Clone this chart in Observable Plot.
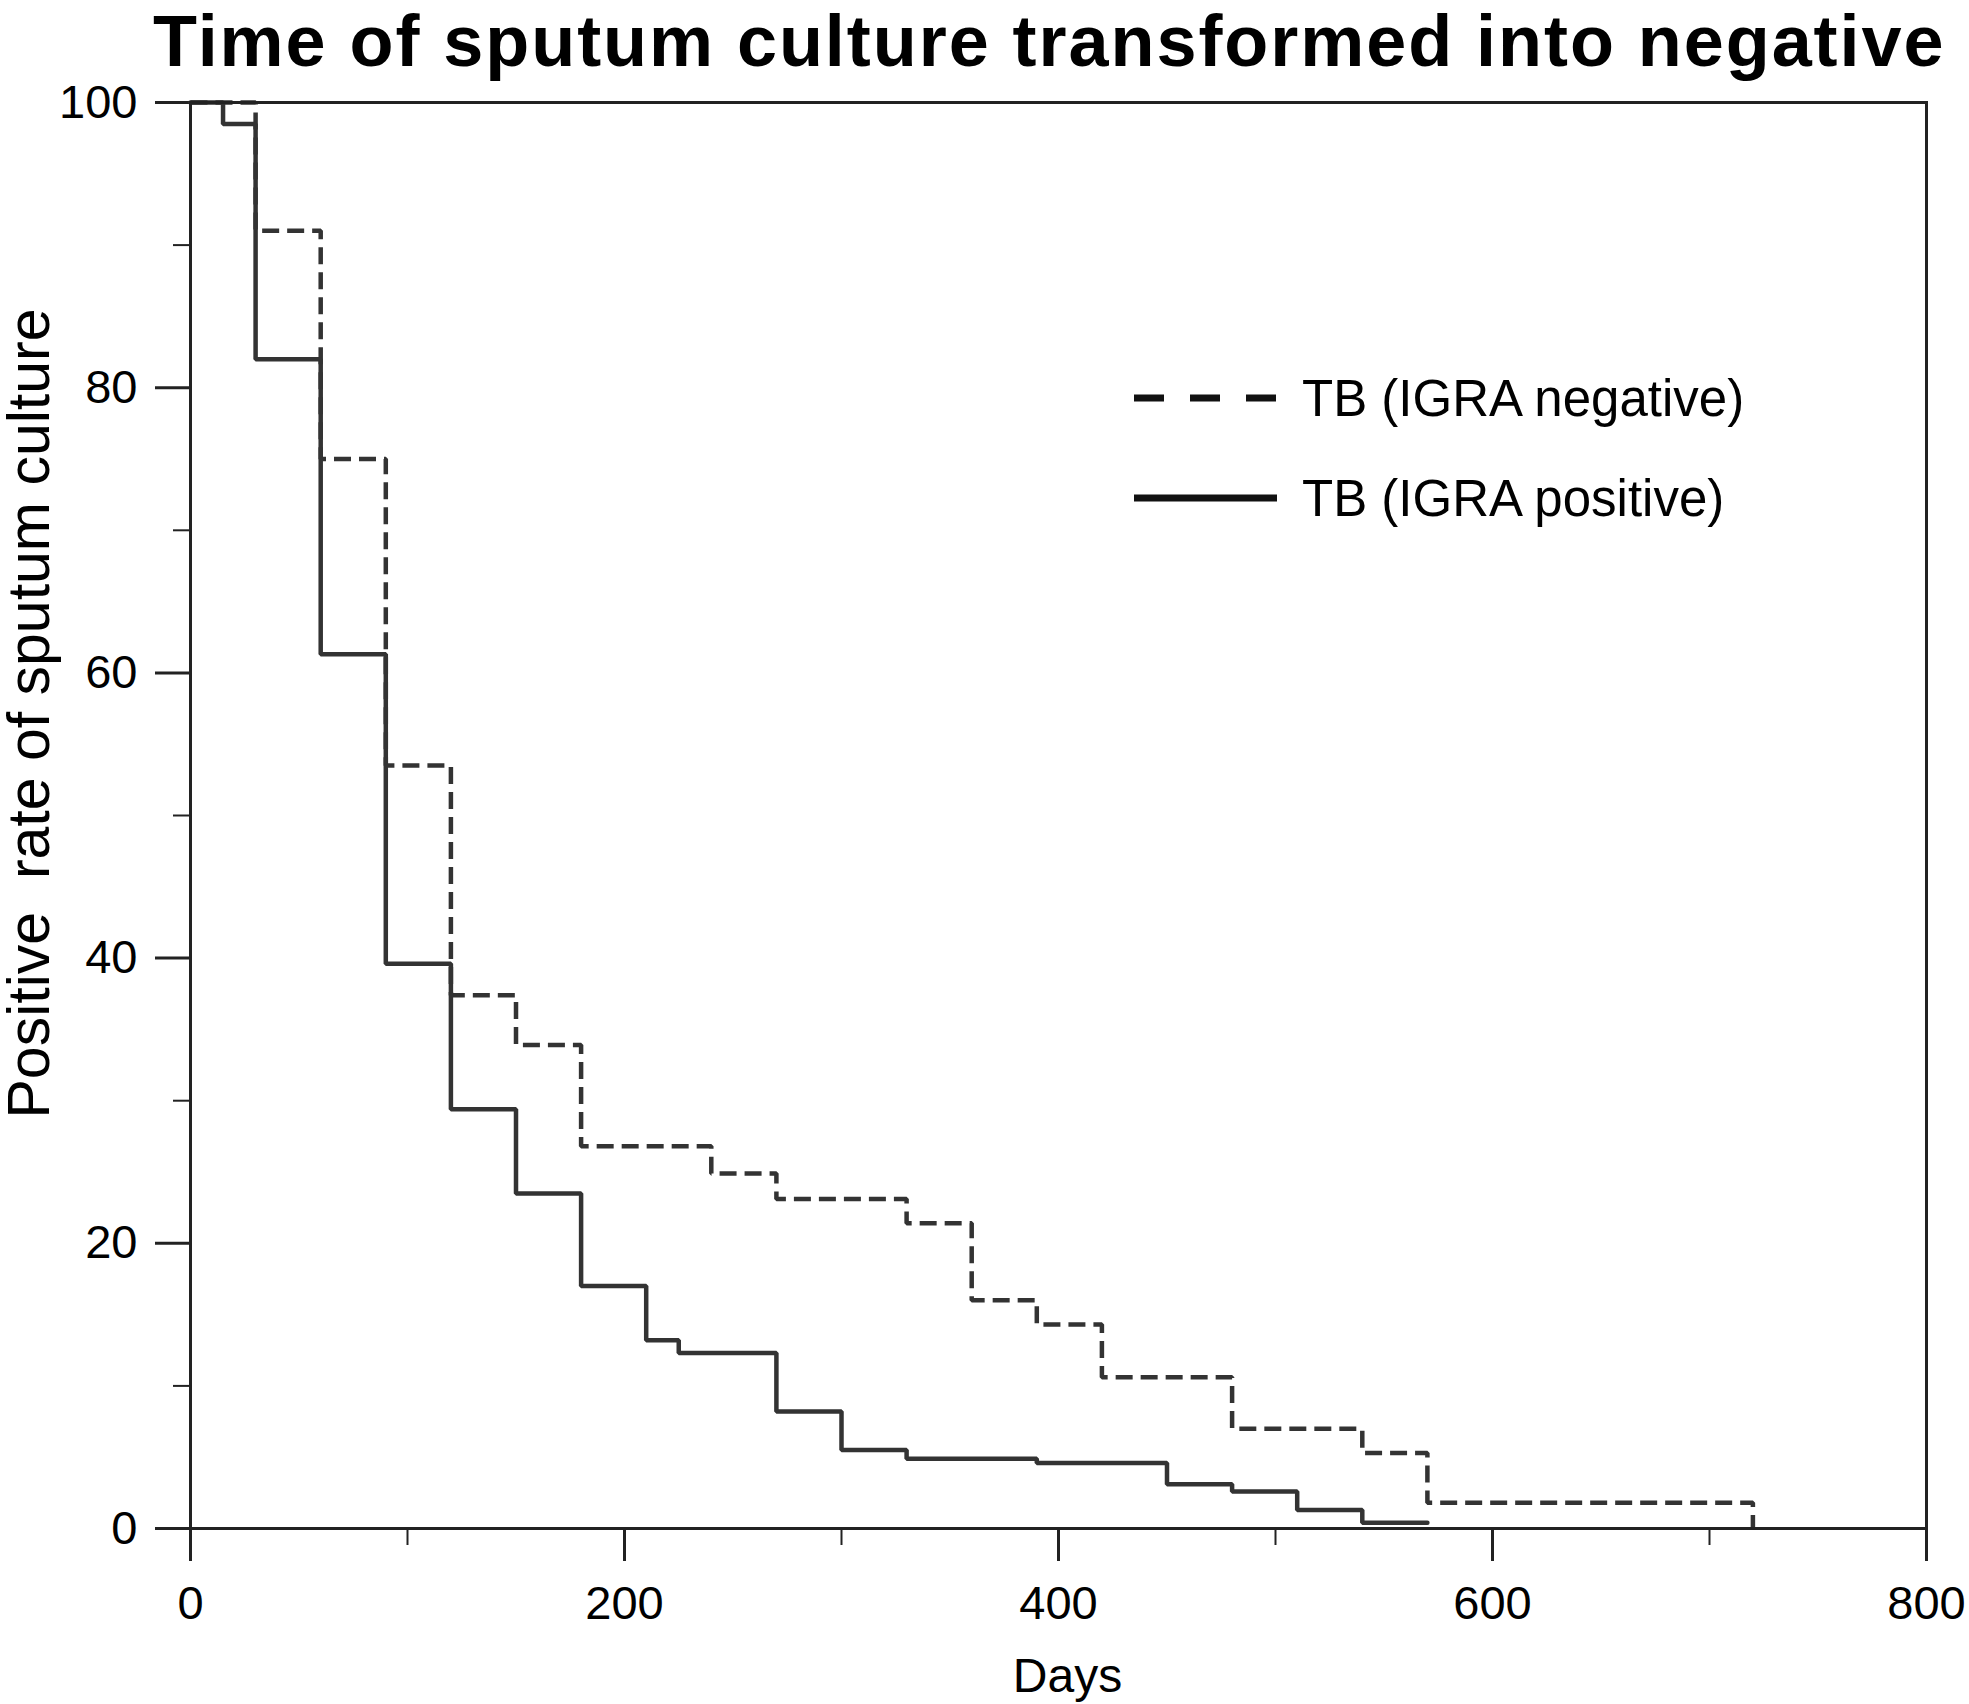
<!DOCTYPE html>
<html>
<head>
<meta charset="utf-8">
<script src="https://cdn.jsdelivr.net/npm/d3@7"></script>
<script src="https://cdn.jsdelivr.net/npm/@observablehq/plot@0.6"></script>
<style>
  html, body { margin: 0; padding: 0; background: #fff; }
  body { width: 1969px; height: 1704px; overflow: hidden; font-family: "Liberation Sans", Arial, sans-serif; }
  #wrap { position: relative; width: 1969px; }
  #title { height: 82px; font: bold 72px "Liberation Sans", Arial, sans-serif; line-height: 82px; letter-spacing: 1.95px; color: #000; white-space: nowrap; padding-left: 153px; position: relative; z-index: 2; }
  #chart { margin-top: -12px; position: relative; z-index: 1; }
  #chart svg { overflow: visible; }
  #legend { position: absolute; left: 0; top: 0; pointer-events: none; z-index: 3; }
</style>
</head>
<body>
<div id="wrap">
  <div id="title">Time of sputum culture transformed into negative</div>
  <div id="chart"></div>
  <svg id="legend" width="1969" height="1704"></svg>
</div>
<script>
// Data
const negDays  = [0, 30, 60, 90, 120, 150, 180, 240, 270, 330, 360, 390, 420, 480, 540, 570, 720];
const negRates = [100, 91.0, 75.0, 53.5, 37.4, 33.9, 26.8, 24.9, 23.1, 21.4, 16.0, 14.3, 10.6, 7.0, 5.3, 1.8, 0];
const posDays  = [0, 15, 30, 60, 90, 120, 150, 180, 210, 225, 270, 300, 330, 390, 450, 480, 510, 540, 570];
const posRates = [100, 98.5, 82.0, 61.3, 39.6, 29.4, 23.5, 17.0, 13.2, 12.3, 8.2, 5.5, 4.9, 4.6, 3.1, 2.6, 1.3, 0.4, 0.4];
const xMajor = [0, 200, 400, 600, 800];
const xMinor = [100, 300, 500, 700];
const yMajor = [0, 20, 40, 60, 80, 100];
const yMinor = [10, 30, 50, 70, 90];
const seriesNames = ["TB (IGRA negative)", "TB (IGRA positive)"];
const xLabel = "Days";
const yLabel = "Positive\u00A0 rate of sputum culture";

const neg = negDays.map((d, i) => ({day: d, rate: negRates[i]}));
const pos = posDays.map((d, i) => ({day: d, rate: posRates[i]}));

const ink = "#222";
const lineColor = "#333";

// SVG starts at page y = 70
const chart = Plot.plot({
  width: 1969,
  height: 1634,
  marginTop: 32,
  marginBottom: 176,
  marginLeft: 190,
  marginRight: 43,
  style: {fontFamily: "'Liberation Sans', Arial, sans-serif", color: "#000", background: "transparent", overflow: "visible"},
  x: {domain: [0, 800]},
  y: {domain: [0, 100]},
  marks: [
    Plot.axisY(yMinor, {tickSize: 17, text: null, label: null, stroke: ink, strokeWidth: 2}),
    Plot.axisY(yMajor, {tickSize: 35, tickPadding: 18, fontSize: 47, label: null, stroke: ink, strokeWidth: 3, fill: "#000"}),
    Plot.axisX(xMinor, {tickSize: 17, text: null, label: null, stroke: ink, strokeWidth: 2}),
    Plot.axisX(xMajor, {tickSize: 33, tickPadding: 24, fontSize: 47, label: null, stroke: ink, strokeWidth: 3, fill: "#000"}),
    Plot.line(neg, {x: "day", y: "rate", curve: "step-after", stroke: lineColor, strokeWidth: 4.5, strokeDasharray: "17,8", strokeLinecap: "butt", strokeLinejoin: "miter"}),
    Plot.line(pos, {x: "day", y: "rate", curve: "step-after", stroke: lineColor, strokeWidth: 4.5, strokeLinejoin: "miter"}),
    Plot.frame({stroke: ink, strokeWidth: 3}),
    Plot.text([yLabel], {frameAnchor: "left", textAnchor: "middle", lineAnchor: "middle", rotate: -90, dx: -160, dy: -102, fontSize: 59, fill: "#000"}),
    Plot.text([xLabel], {frameAnchor: "bottom", textAnchor: "middle", lineAnchor: "middle", dx: 9, dy: 148, fontSize: 48, fill: "#000"})
  ]
});
document.getElementById("chart").appendChild(chart);

// Legend overlay
const leg = d3.select("#legend");
const legendItems = [
  {name: seriesNames[0], dash: "30,26", y: 398},
  {name: seriesNames[1], dash: null, y: 498}
];
legendItems.forEach(it => {
  const l = leg.append("line").attr("x1", 1134).attr("x2", 1277).attr("y1", it.y).attr("y2", it.y)
    .attr("stroke", "#111").attr("stroke-width", 7);
  if (it.dash) l.attr("stroke-dasharray", it.dash);
  leg.append("text").attr("x", 1302).attr("y", it.y).attr("dy", "0.36em")
    .attr("font-family", "'Liberation Sans', Arial, sans-serif").attr("font-size", 51).attr("fill", "#000")
    .text(it.name);
});
</script>
</body>
</html>
